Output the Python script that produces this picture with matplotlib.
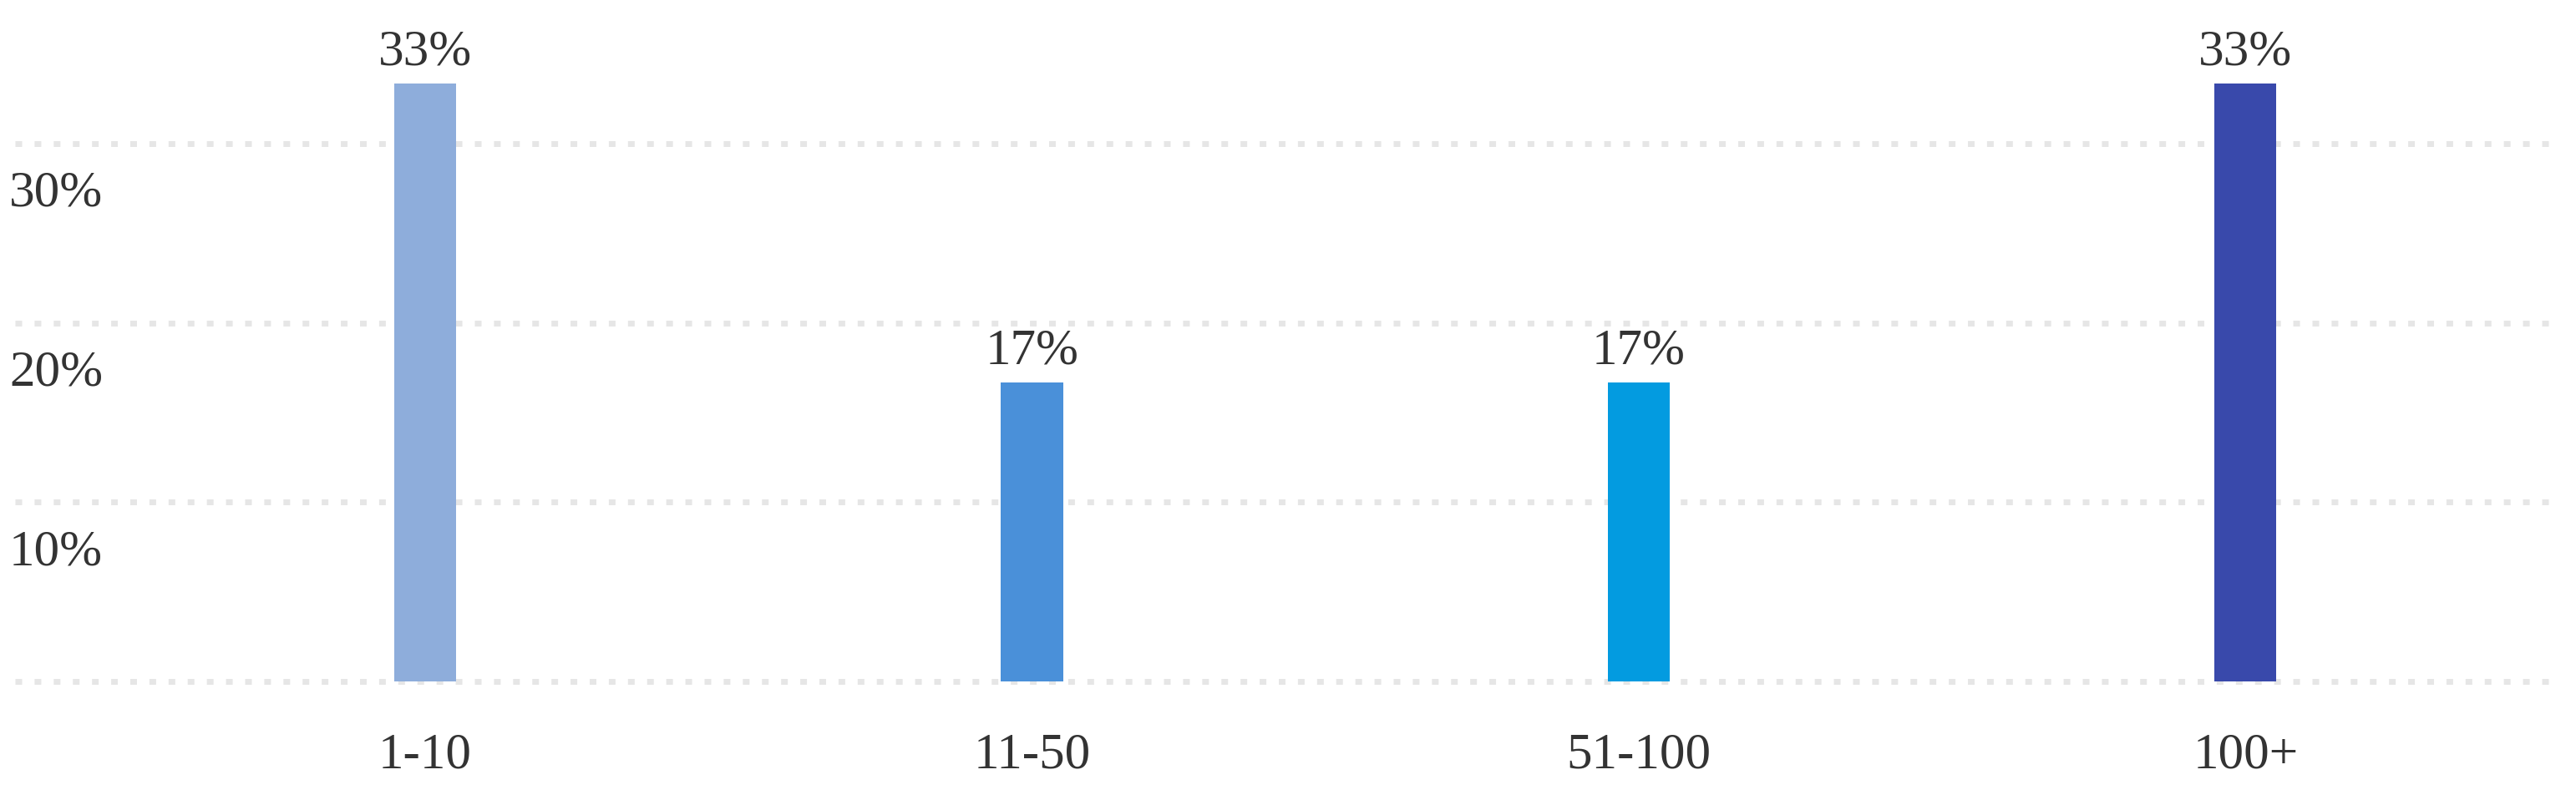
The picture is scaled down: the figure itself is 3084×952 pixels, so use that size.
import matplotlib as mpl
mpl.use('Agg')
import matplotlib.pyplot as plt

# data
categories = ['1-10', '11-50', '51-100', '100+']
shares = [33.33, 16.67, 16.67, 33.33]
value_labels = ['33%', '17%', '17%', '33%']
bar_colors = ['#8EADDB', '#4A90D9', '#039BE0', '#3949AB']
y_ticks = [0, 10, 20, 30]
y_tick_labels = ['', '10%', '20%', '30%']

W, H, DPI = 3084, 953, 100
text_color = '#333333'
fsize = 44
plt.rcParams['font.family'] = ['Liberation Serif', 'DejaVu Serif']

fig = plt.figure(figsize=(W / DPI, H / DPI), dpi=DPI)
ax = fig.add_axes([18 / W, 93 / H, 3046 / W, 859 / H])

x = list(range(len(categories)))
bars = ax.bar(x, shares, width=0.102, color=bar_colors, zorder=3)

ax.set_xlim(-0.676, 3.517)
ax.set_ylim(-2, 38)

# dotted horizontal grid
for v in y_ticks:
    ax.axhline(v, color='#E6E6E6', linewidth=5,
               linestyle=(0, (1.15, 2.15)), zorder=1)

# y labels sit under their grid line, at the far left
for v, lab in zip(y_ticks, y_tick_labels):
    if lab:
        ax.annotate(lab, xy=(11, v), xycoords=('figure pixels', 'data'),
                    xytext=(0, -74), textcoords='offset pixels',
                    ha='left', va='baseline', fontsize=fsize, color=text_color)

ax.set_xticks(x)
ax.set_xticklabels(categories, fontsize=fsize, color=text_color)
plt.setp(ax.get_xticklabels(), va='baseline')
ax.tick_params(axis='x', length=0, pad=42.5)
ax.set_yticks([])

# value labels above the bars
for xi, v, lab in zip(x, shares, value_labels):
    ax.annotate(lab, xy=(xi, v), xytext=(0, 24), textcoords='offset pixels',
                ha='center', va='baseline', fontsize=fsize, color=text_color)

for s in ax.spines.values():
    s.set_visible(False)

fig.savefig('out.png', dpi=DPI, facecolor='white')
